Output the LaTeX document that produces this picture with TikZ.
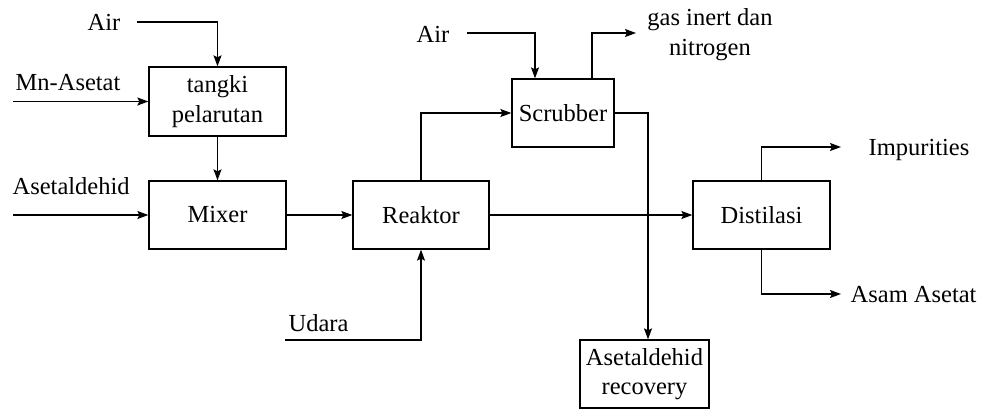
\documentclass[tikz,border=0pt]{standalone}
\usepackage{fontspec}
\setmainfont{Liberation Serif}
\usetikzlibrary{arrows.meta}
\begin{document}
\begin{tikzpicture}[x=1pt,y=-1pt,
  font=\fontsize{24.5}{29.5}\selectfont,
  line width=1.3pt,
  box/.style={draw, rectangle, inner sep=0pt, align=center},
  lbl/.style={inner sep=0pt, anchor=base west},
  arr/.style={-{Stealth[length=11pt,width=8pt,inset=2pt]}}]
\useasboundingbox (0,0) rectangle (984,410);
% process boxes
\node[box, minimum width=137pt, minimum height=69pt] (tangki) at (217.5,101.5) {tangki\\pelarutan};
\node[box, minimum width=137pt, minimum height=68pt] (mixer) at (217.5,215) {Mixer};
\node[box, minimum width=136pt, minimum height=68pt] (reaktor) at (421,215) {Reaktor};
\node[box, minimum width=102pt, minimum height=68pt] (scrubber) at (563,113) {Scrubber};
\node[box, minimum width=137pt, minimum height=68pt] (distilasi) at (761.5,215) {Distilasi};
\node[box, minimum width=129pt, minimum height=68pt] (recov) at (644.5,374) {Asetaldehid\\recovery};
% labels
\node[lbl] (lair1) at (87,30) {Air};
\node[lbl] (lmn) at (15,90) {Mn-Asetat};
\node[lbl] (lase) at (12,194) {Asetaldehid};
\node[lbl] (lair2) at (416,42) {Air};
\node[inner sep=0pt, align=center, anchor=base] (lgas) at (710,55) {gas inert dan\\nitrogen};
\node[lbl] (limp) at (868,155) {Impurities};
\node[lbl] (lasam) at (850,302) {Asam Asetat};
\node[lbl] (ludara) at (288,331) {Udara};
% free ends
\coordinate (airA) at (137,22);
\coordinate (mnA) at (13,101.5);
\coordinate (asA) at (13,215);
\coordinate (airB) at (467,33);
\coordinate (gasT) at (636,33);
\coordinate (impT) at (841,147);
\coordinate (asamT) at (841,294);
\coordinate (udA) at (285,340);
% connectors
\draw[arr] (airA) -| (tangki.north);
\draw[arr] (mnA) -- (tangki.west);
\draw[arr] (tangki.south) -- (mixer.north);
\draw[arr] (asA) -- (mixer.west);
\draw[arr] (mixer.east) -- (reaktor.west);
\draw[arr] (reaktor.north) |- (scrubber.west);
\draw[arr] (airB) -| ([xshift=-28pt]scrubber.north);
\draw[arr] ([xshift=29pt]scrubber.north) |- (gasT);
\draw[arr] (scrubber.east) -| ([xshift=3.5pt]recov.north);
\draw[arr] (reaktor.east) -- (distilasi.west);
\draw[arr] (distilasi.north) |- (impT);
\draw[arr] (distilasi.south) |- (asamT);
\draw[arr] (udA) -| (reaktor.south);
\end{tikzpicture}
\end{document}
